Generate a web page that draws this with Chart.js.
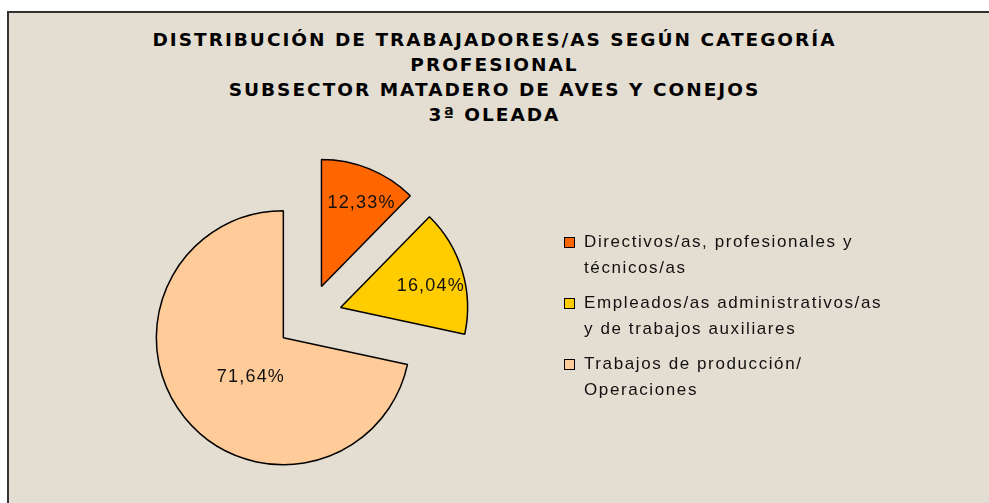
<!DOCTYPE html>
<html>
<head>
<meta charset="utf-8">
<script src="https://cdn.jsdelivr.net/npm/chart.js@4"></script>
<style>
  html, body { margin: 0; padding: 0; background: #fff; }
  body { width: 989px; height: 503px; position: relative; overflow: hidden; }
  #frame {
    position: absolute; left: 7px; top: 11px; width: 1000px; height: 520px;
    background: #e4ddd1; border: 2px solid #333;
  }
  #chart { position: absolute; left: 0; top: 0; }
  #title {
    position: absolute; left: 0; top: 27px; width: 989px; text-align: center;
    font: bold 18.5px "DejaVu Sans", sans-serif; letter-spacing: 2px;
    line-height: 25px; color: #000;
  }
  #legend { position: absolute; left: 563px; top: 229px; font: 17px "Liberation Sans", Arial, sans-serif; color: #111; }
  .item { position: relative; padding-left: 21px; line-height: 26px; margin-bottom: 9px; letter-spacing: 1.6px; }
  .box { position: absolute; left: 1px; top: 8px; width: 9px; height: 9px; border: 1px solid #000; }
</style>
</head>
<body>
<div id="frame"></div>
<div id="title"></div>
<canvas id="chart" width="989" height="503"></canvas>
<div id="legend"></div>
<script>
const titleLines = [
    "DISTRIBUCIÓN DE TRABAJADORES/AS SEGÚN CATEGORÍA",
    "PROFESIONAL",
    "SUBSECTOR MATADERO DE AVES Y CONEJOS",
    "3ª OLEADA"
];
const categorias = [
    ["Directivos/as, profesionales y", "técnicos/as"],
    ["Empleados/as administrativos/as", "y de trabajos auxiliares"],
    ["Trabajos de producción/", "Operaciones"]
];
const porcentajes = [12.33, 16.04, 71.64];
const colores = ["#FF6600", "#FFCC00", "#FFCC99"];

document.getElementById("title").innerHTML = titleLines.join("<br>");

// leyenda en html, para poder partir las lineas como en el original
const legend = document.getElementById("legend");
categorias.forEach((lineas, i) => {
    const div = document.createElement("div");
    div.className = "item";
    div.innerHTML = '<span class="box" style="background:' + colores[i] + '"></span>' + lineas.join("<br>");
    legend.appendChild(div);
});

const separacion = 33; // px que se separa cada porcion del centro

// separa las porciones como en excel: todas la misma distancia y el mismo radio
// (el offset de chart.js agranda el radio de las porciones grandes)
const separar = {
    id: "separar",
    afterDatasetsUpdate(chart) {
        const area = chart.chartArea;
        const cx = (area.left + area.right) / 2;
        const cy = (area.top + area.bottom) / 2;
        chart.getDatasetMeta(0).data.forEach((arc) => {
            const mid = (arc.startAngle + arc.endAngle) / 2;
            arc.x = cx + Math.cos(mid) * separacion;
            arc.y = cy + Math.sin(mid) * separacion;
        });
    }
};

// etiquetas de porcentaje dentro de cada porcion
const etiquetas = {
    id: "etiquetas",
    afterDatasetsDraw(chart) {
        const ctx = chart.ctx;
        const meta = chart.getDatasetMeta(0);
        ctx.save();
        ctx.font = "18px 'Liberation Sans', Arial, sans-serif";
        ctx.letterSpacing = "1.2px";
        ctx.fillStyle = "#111";
        ctx.textAlign = "center";
        ctx.textBaseline = "middle";
        meta.data.forEach((arc, i) => {
            const mid = (arc.startAngle + arc.endAngle) / 2;
            const grande = (arc.endAngle - arc.startAngle) > Math.PI;
            const ang = grande ? mid - 0.2 : mid + 0.06;
            const r = arc.outerRadius * (grande ? 0.4 : 0.73);
            const x = arc.x + Math.cos(ang) * r;
            const y = arc.y + Math.sin(ang) * r;
            ctx.fillText(porcentajes[i].toFixed(2).replace(".", ",") + "%", x, y);
        });
        ctx.restore();
    }
};

new Chart(document.getElementById("chart"), {
    type: "pie",
    data: {
        labels: categorias,
        datasets: [{
            data: porcentajes,
            backgroundColor: colores,
            borderColor: "#000",
            borderWidth: 1.5,
            hoverOffset: 0
        }]
    },
    options: {
        responsive: false,
        animation: false,
        devicePixelRatio: 1,
        radius: 127,
        layout: { padding: { left: 0, right: 371, top: 131, bottom: 0 } },
        plugins: {
            legend: { display: false },
            title: { display: false },
            tooltip: { enabled: false }
        }
    },
    plugins: [separar, etiquetas]
});
</script>
</body>
</html>
